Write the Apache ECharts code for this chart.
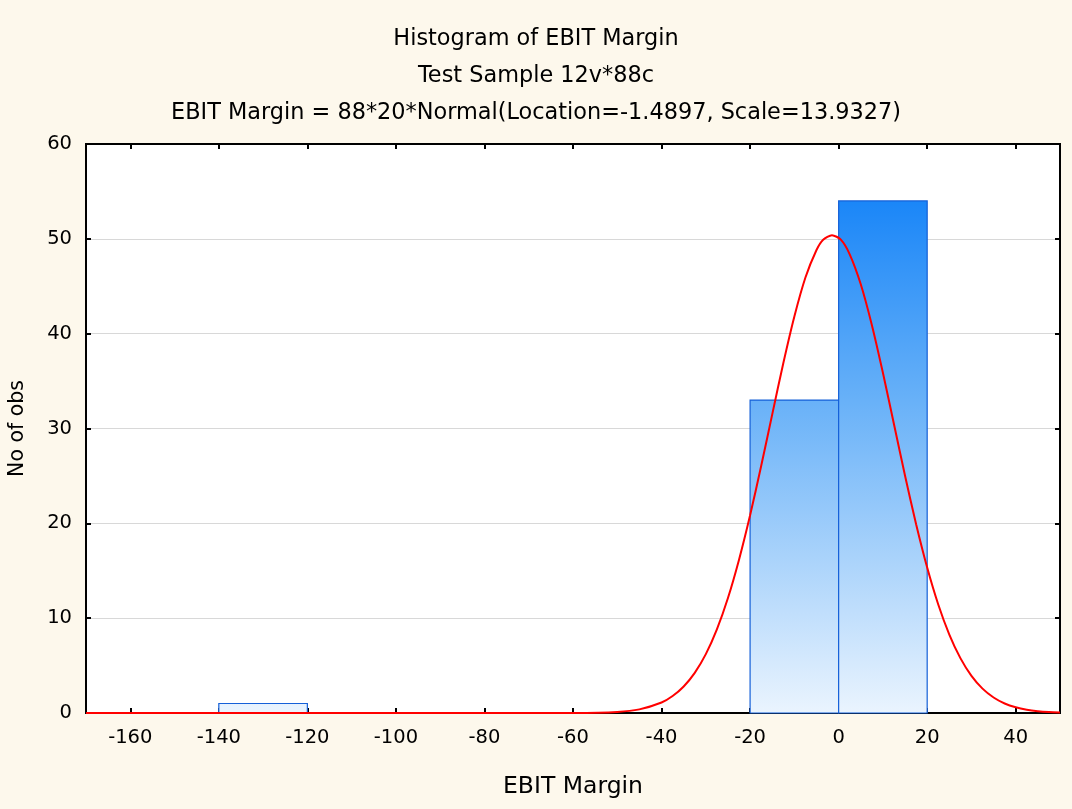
<!DOCTYPE html>
<html><head><meta charset="utf-8">
<script src="https://cdn.jsdelivr.net/npm/echarts@6/dist/echarts.min.js"></script>
<style>html,body{margin:0;padding:0;background:#FDF8EC;}#c{width:1072px;height:809px;}</style>
</head><body><div id="c"></div>
<script>
var titleLines = ['Histogram of EBIT Margin', 'Test Sample 12v*88c', 'EBIT Margin = 88*20*Normal(Location=-1.4897, Scale=13.9327)'];
var xName = 'EBIT Margin';
var yName = 'No of obs';
// histogram bins [from, to] and counts
var binStart = [-160, -140, -120, -100, -80, -60, -40, -20, 0, 20];
var binEnd   = [-140, -120, -100, -80, -60, -40, -20, 0, 20, 40];
var counts   = [0, 1, 0, 0, 0, 0, 0, 33, 54, 0];
// fitted normal curve
var curveX = [-170, -100, -70, -60, -50, -45, -40, -37.5, -35, -32.5, -30, -27.5, -25, -22.5, -20, -17.5, -15, -12.5, -10, -7.5, -5, -3.5, -1.5, 0.5, 2.5, 5, 7.5, 10, 12.5, 15, 17.5, 20, 22.5, 25, 27.5, 30, 32.5, 35, 37.5, 40, 42.5, 45, 47.5, 50];
var curveY = [0, 0, 0.001, 0.008, 0.117, 0.384, 1.105, 1.786, 2.796, 4.232, 6.209, 8.82, 12.13, 16.17, 20.85, 26.04, 31.49, 36.88, 41.81, 45.92, 48.82, 49.91, 50.39, 49.91, 48.37, 45.21, 40.92, 35.87, 30.44, 25.01, 19.91, 15.34, 11.44, 8.27, 5.785, 3.918, 2.569, 1.633, 1.004, 0.598, 0.345, 0.193, 0.104, 0.055];
var xTicks = [-160, -140, -120, -100, -80, -60, -40, -20, 0, 20, 40];

var chart = echarts.init(document.getElementById('c'), null, {renderer: 'canvas'});
var font = 'DejaVu Sans, Verdana, sans-serif';
var barData = binStart.map(function (s, i) { return [s, binEnd[i], counts[i]]; });
var curveData = curveX.map(function (x, i) { return [x, curveY[i]]; });

var option = {
  backgroundColor: '#FDF8EC',
  animation: false,
  title: titleLines.map(function (t, i) {
    return {text: t, left: 'center', top: 23 + i * 37, textStyle: {fontFamily: font, fontSize: 22.4, fontWeight: 'normal', color: '#000'}};
  }),
  grid: {left: 86, right: 12, top: 144, bottom: 96, show: true, backgroundColor: '#fff', borderColor: '#000', borderWidth: 2, containLabel: false, outerBoundsMode: 'none'},
  xAxis: [{
    type: 'value', min: -170, max: 50, interval: 20,
    name: xName, nameLocation: 'middle', nameGap: 62,
    nameTextStyle: {fontFamily: font, fontSize: 23.5, color: '#000'},
    axisLine: {show: true, onZero: false, lineStyle: {color: '#000', width: 2}},
    axisTick: {show: true, inside: true, length: 5, lineStyle: {color: '#000', width: 2},
      customValues: xTicks},
    axisLabel: {fontFamily: font, fontSize: 19.5, color: '#000', margin: 15, customValues: xTicks,
      formatter: function (v) { return String(v); }},
    splitLine: {show: false}
  }, {
    type: 'value', min: -170, max: 50, position: 'top',
    axisLine: {show: true, onZero: false, lineStyle: {color: '#000', width: 2}},
    axisTick: {show: true, inside: true, length: 5, lineStyle: {color: '#000', width: 2}, customValues: xTicks},
    axisLabel: {show: false}, splitLine: {show: false}
  }],
  yAxis: [{
    type: 'value', min: 0, max: 60, interval: 10,
    name: yName, nameLocation: 'middle', nameGap: 58, nameRotate: 90,
    nameTextStyle: {fontFamily: font, fontSize: 20.5, color: '#000'},
    axisLine: {show: true, onZero: false, lineStyle: {color: '#000', width: 2}},
    axisTick: {show: true, inside: true, length: 5, lineStyle: {color: '#000', width: 2}},
    axisLabel: {fontFamily: font, fontSize: 19.5, color: '#000', margin: 14},
    splitLine: {show: true, lineStyle: {color: '#d8d8d8', width: 1}}
  }, {
    type: 'value', min: 0, max: 60, interval: 10, position: 'right',
    axisLine: {show: true, onZero: false, lineStyle: {color: '#000', width: 2}},
    axisTick: {show: true, inside: true, length: 5, lineStyle: {color: '#000', width: 2}},
    axisLabel: {show: false}, splitLine: {show: false}
  }],
  series: [{
    type: 'custom',
    data: barData,
    z: 2,
    renderItem: function (params, api) {
      if (api.value(2) <= 0) { return null; }
      var p0 = api.coord([api.value(0), api.value(2)]);
      var p1 = api.coord([api.value(1), 0]);
      return {
        type: 'rect',
        shape: {x: p0[0], y: p0[1], width: p1[0] - p0[0], height: p1[1] - p0[1]},
        style: {
          fill: new echarts.graphic.LinearGradient(0, 200, 0, 713, [
            {offset: 0, color: '#1A86F8'},
            {offset: 0.4, color: '#6AB2F8'},
            {offset: 1, color: '#EAF4FE'}
          ], true),
          stroke: '#1560D8', lineWidth: 1.2
        }
      };
    }
  }, {
    type: 'line', data: curveData, smooth: 0.25, showSymbol: false, symbol: 'none', z: 3,
    lineStyle: {color: '#FF0000', width: 2}
  }]
};
chart.setOption(option);
</script>
</body></html>
